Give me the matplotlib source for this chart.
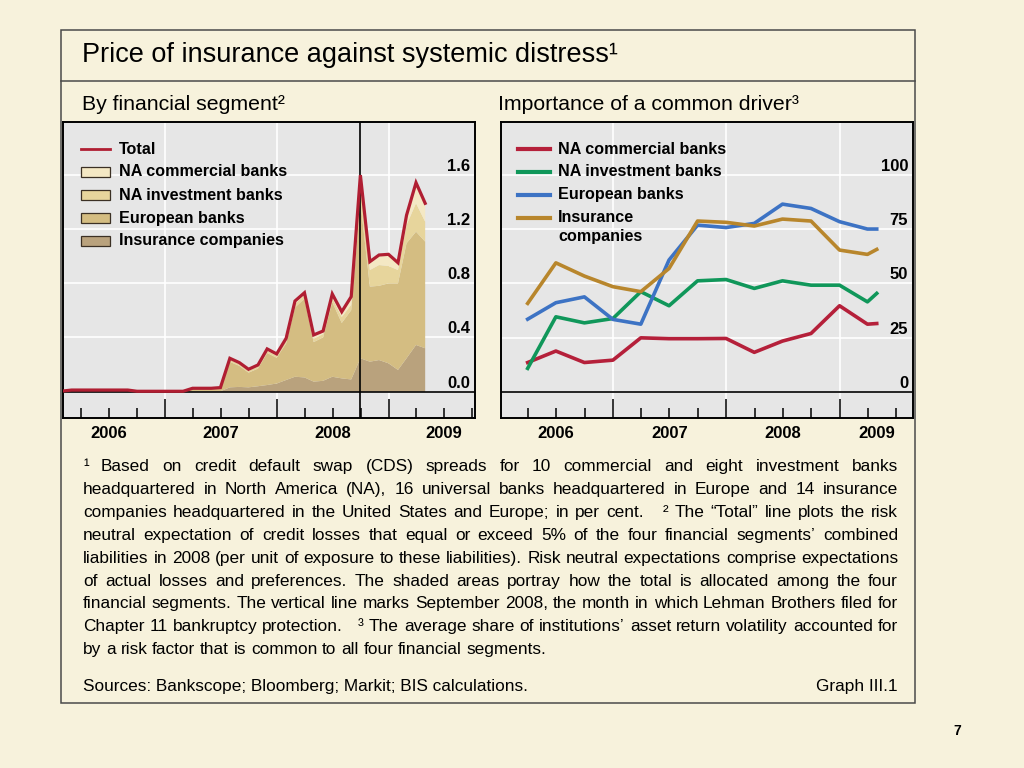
import math
import numpy as np
import pandas as pd
import matplotlib
matplotlib.use("Agg")
import matplotlib.pyplot as plt
import matplotlib.dates as mdates
from matplotlib.lines import Line2D
from matplotlib.patches import Rectangle
from matplotlib import transforms
from matplotlib.font_manager import FontProperties

plt.rcParams['font.family'] = ['Liberation Sans', 'DejaVu Sans']

# left panel: monthly (month ends), Jan 2006 - Apr 2009
months = pd.date_range("2006-01-31", periods=40, freq="ME")
total = [0.005, 0.012, 0.012, 0.012, 0.012, 0.012, 0.012, 0.012, 0.003, 0.003,
         0.003, 0.003, 0.003, 0.003, 0.025, 0.025, 0.025, 0.030,
         0.246, 0.214, 0.165, 0.197, 0.315, 0.278, 0.393, 0.668, 0.729, 0.418,
         0.447, 0.720, 0.589, 0.700, 1.596, 0.958, 1.007, 1.012, 0.950, 1.300,
         1.540, 1.388]
insurance = [0.000, 0.000, 0.000, 0.000, 0.000, 0.000, 0.000, 0.000, 0.000, 0.000,
             0.000, 0.000, 0.000, 0.000, 0.002, 0.002, 0.002, 0.003,
             0.032, 0.035, 0.032, 0.040, 0.049, 0.060, 0.086, 0.110, 0.105, 0.074,
             0.080, 0.110, 0.098, 0.090, 0.246, 0.221, 0.233, 0.209, 0.160, 0.246,
             0.344, 0.320]
european = [0.004, 0.009, 0.009, 0.009, 0.009, 0.009, 0.009, 0.009, 0.002, 0.002,
            0.002, 0.002, 0.002, 0.002, 0.018, 0.018, 0.018, 0.022,
            0.188, 0.155, 0.108, 0.130, 0.236, 0.190, 0.269, 0.510, 0.580, 0.291,
            0.320, 0.550, 0.408, 0.510, 1.154, 0.553, 0.547, 0.589, 0.638, 0.847,
            0.835, 0.785]
na_invest = [0.001, 0.002, 0.002, 0.002, 0.002, 0.002, 0.002, 0.002, 0.001, 0.001,
             0.001, 0.001, 0.001, 0.001, 0.003, 0.003, 0.003, 0.003,
             0.015, 0.013, 0.013, 0.015, 0.015, 0.015, 0.020, 0.025, 0.025, 0.025,
             0.025, 0.030, 0.044, 0.040, 0.120, 0.122, 0.153, 0.128, 0.098, 0.135,
             0.209, 0.147]
na_comm = [0.000, 0.001, 0.001, 0.001, 0.001, 0.001, 0.001, 0.001, 0.000, 0.000,
           0.000, 0.000, 0.000, 0.000, 0.002, 0.002, 0.002, 0.002,
           0.011, 0.011, 0.012, 0.012, 0.015, 0.013, 0.018, 0.023, 0.019, 0.028,
           0.022, 0.030, 0.039, 0.060, 0.076, 0.062, 0.074, 0.086, 0.054, 0.072,
           0.152, 0.136]
lehman = pd.Timestamp("2008-09-30")

# right panel: quarterly shares, per cent
quarters = pd.to_datetime(["2006-03-31", "2006-06-30", "2006-09-30", "2006-12-31",
                           "2007-03-31", "2007-06-30", "2007-09-30", "2007-12-31",
                           "2008-03-31", "2008-06-30", "2008-09-30", "2008-12-31",
                           "2009-03-31", "2009-04-30"])
drv_na_comm = [13.5, 18.8, 13.5, 14.6, 24.9, 24.5, 24.5, 24.6, 18.2, 23.4, 26.9, 39.7, 31.2, 31.5]
drv_na_inv = [10.8, 34.6, 31.8, 33.8, 46.2, 39.7, 51.2, 51.8, 47.7, 51.2, 49.2, 49.2, 41.5, 45.4]
drv_europe = [33.5, 41.1, 43.8, 33.4, 31.2, 60.8, 76.9, 75.8, 77.7, 86.6, 84.6, 78.5, 75.1, 75.1]
drv_insur = [40.8, 59.5, 53.4, 48.5, 46.2, 56.9, 78.8, 78.2, 76.5, 79.7, 78.8, 65.4, 63.4, 65.7]

left_yticks = [0.0, 0.4, 0.8, 1.2, 1.6]
left_ylabels = ["0.0", "0.4", "0.8", "1.2", "1.6"]
right_yticks = [0, 25, 50, 75, 100]
right_ylabels = ["0", "25", "50", "75", "100"]
years = ["2006", "2007", "2008", "2009"]

BG = "#f7f2dc"
PLOT_BG = "#e6e6e6"
area_colors = ["#b9a27d", "#d4bd82", "#e7d59c", "#f4e8c4"]
RED = "#b01e32"
line_colors = ["#b5203a", "#10975a", "#3d73c4", "#b8862c"]

W, H = 1024, 768
fig = plt.figure(figsize=(W / 100, H / 100), dpi=100, facecolor=BG)


def fx(x):
    return x / W


def fy(y):
    return 1 - y / H


# outer box
box = Rectangle((fx(61), fy(703)), fx(915) - fx(61), fy(30) - fy(703),
                transform=fig.transFigure, fill=False, ec="#4a4a4a", lw=1.1)
fig.add_artist(box)
fig.add_artist(Line2D([fx(61), fx(915)], [fy(81), fy(81)], transform=fig.transFigure,
                      color="#4a4a4a", lw=1.1))

fig.text(fx(82), fy(55), "Price of insurance against systemic distress¹", fontsize=19.5,
         va="center", ha="left")
fig.text(fx(82), fy(104), "By financial segment²", fontsize=15.3, va="center")
fig.text(fx(498), fy(104), "Importance of a common driver³", fontsize=15.3, va="center")


def style_axes(ax, yticks, ylabels):
    ax.set_facecolor(PLOT_BG)
    for s in ax.spines.values():
        s.set_color("black")
        s.set_linewidth(1.4)
    ax.set_yticks(yticks)
    ax.tick_params(axis="y", length=0, labelleft=False, labelright=False)
    ax.xaxis.set_major_locator(mdates.YearLocator())
    ax.xaxis.set_minor_locator(mdates.MonthLocator(bymonth=[4, 7, 10]))
    ax.tick_params(axis="x", which="major", direction="in", length=14, width=1.1,
                   color="black", labelbottom=False)
    ax.tick_params(axis="x", which="minor", direction="in", length=7, width=1.1,
                   color="black", labelbottom=False)
    ax.grid(axis="x", which="major", color="white", lw=1.2)
    ax.grid(axis="y", color="white", lw=1.2)
    ax.set_axisbelow(True)
    ax.axhline(0, color="black", lw=1.2, zorder=4)
    tr = transforms.offset_copy(ax.get_yaxis_transform(), fig=fig, x=-5, y=4, units="dots")
    for v, lab in zip(yticks, ylabels):
        ax.text(1.0, v, lab, transform=tr, ha="right", va="baseline",
                fontsize=12, fontweight="bold", zorder=6)


# left panel
axl = fig.add_axes([fx(63), fy(418), fx(475) - fx(63), fy(122) - fy(418)])
axl.stackplot(months, insurance, european, na_invest, na_comm,
              colors=area_colors, lw=0, zorder=2)
axl.plot(months, total, color=RED, lw=2.3, zorder=5, solid_joinstyle="miter")
axl.axvline(lehman, color="black", lw=1.2, zorder=4)
axl.set_xlim(pd.Timestamp("2006-01-31"), pd.Timestamp("2009-10-10"))
axl.set_ylim(-0.194, 1.987)
style_axes(axl, left_yticks, left_ylabels)

# right panel
axr = fig.add_axes([fx(501), fy(418), fx(913) - fx(501), fy(122) - fy(418)])
for vals, c in zip([drv_na_comm, drv_na_inv, drv_europe, drv_insur], line_colors):
    axr.plot(quarters, vals, color=c, lw=2.6, zorder=5)
axr.set_xlim(pd.Timestamp("2006-01-04"), pd.Timestamp("2009-08-25"))
axr.set_ylim(-12.1, 124.5)
style_axes(axr, right_yticks, right_ylabels)

# year labels under the panels
for yr in years:
    axl.text(pd.Timestamp(yr + "-07-01"), -15 / 296, yr, transform=axl.get_xaxis_transform(),
             ha="center", va="center", fontsize=12, fontweight="bold")
right_label_pos = ["2006-07-01", "2007-07-01", "2008-07-01", "2009-05-01"]
for yr, pos in zip(years, right_label_pos):
    axr.text(pd.Timestamp(pos), -15 / 296, yr, transform=axr.get_xaxis_transform(),
             ha="center", va="center", fontsize=12, fontweight="bold")

# legends (manual, positioned in pixels)
LEG = 11.6
left_names = ["NA commercial banks", "NA investment banks", "European banks",
              "Insurance companies"]
fig.add_artist(Line2D([fx(81), fx(110)], [fy(149), fy(149)], transform=fig.transFigure,
                      color=RED, lw=2.0))
fig.text(fx(119), fy(149), "Total", fontsize=LEG, fontweight="bold", va="center")
for i, (name, c) in enumerate(zip(left_names, area_colors[::-1])):
    yc = 172 + 23 * i
    fig.add_artist(Rectangle((fx(81), fy(yc + 5)), fx(110) - fx(81), fy(yc - 5) - fy(yc + 5),
                             transform=fig.transFigure, fc=c, ec="#3b3024", lw=0.9))
    fig.text(fx(119), fy(yc), name, fontsize=LEG, fontweight="bold", va="center")

right_names = ["NA commercial banks", "NA investment banks", "European banks", "Insurance"]
for i, (name, c) in enumerate(zip(right_names, line_colors)):
    yc = 149 + 23 * i
    fig.add_artist(Line2D([fx(518), fx(550)], [fy(yc), fy(yc)], transform=fig.transFigure,
                          color=c, lw=3.0))
    fig.text(fx(558), fy(yc), name, fontsize=LEG, fontweight="bold", va="center")
fig.text(fx(558), fy(237), "companies", fontsize=LEG, fontweight="bold", va="center")

# footnotes, justified word by word on a common baseline
notes = [
    "¹ Based on credit default swap (CDS) spreads for 10 commercial and eight investment banks",
    "headquartered in North America (NA), 16 universal banks headquartered in Europe and 14 insurance",
    "companies headquartered in the United States and Europe; in per cent. ² The “Total” line plots the risk",
    "neutral expectation of credit losses that equal or exceed 5% of the four financial segments’ combined",
    "liabilities in 2008 (per unit of exposure to these liabilities). Risk neutral expectations comprise expectations",
    "of actual losses and preferences. The shaded areas portray how the total is allocated among the four",
    "financial segments. The vertical line marks September 2008, the month in which Lehman Brothers filed for",
    "Chapter 11 bankruptcy protection. ³ The average share of institutions’ asset return volatility accounted for",
    "by a risk factor that is common to all four financial segments.",
]
note_base = [471, 494, 517, 540, 563, 586, 608, 631, 654]
X0, X1 = 83, 898

renderer = fig.canvas.get_renderer()


def text_width(s, size):
    t = fig.text(0, 0, s, fontsize=size)
    w = t.get_window_extent(renderer).width
    t.remove()
    return w


def baseline_fix(word, size):
    # shift so that Agg's pixel rounding puts every word on the same row
    _, h, d = renderer.get_text_width_height_descent(word, FontProperties(size=size), False)
    a = h - d
    return math.floor(a + d) - math.floor(a) - d


size = 12.4
space = text_width("x x", size) - text_width("xx", size)
natural = max(sum(text_width(w, size) for w in ln.split()) + space * (len(ln.split()) - 1)
              for ln in notes[:-1])
if natural > (X1 - X0):
    size = size * (X1 - X0) / natural
space = text_width("x x", size) - text_width("xx", size)

for i, (ln, yy) in enumerate(zip(notes, note_base)):
    words = ln.split()
    widths = [text_width(w, size) for w in words]
    units = [3.0 if w in ("²", "³") else 1.0 for w in words[1:]]
    if i == len(notes) - 1:
        gap = space
    else:
        gap = (X1 - X0 - sum(widths)) / sum(units)
    x = X0
    for j, (w, wd) in enumerate(zip(words, widths)):
        ypix = yy + baseline_fix(w, size)
        fig.text(fx(x), fy(ypix), w, fontsize=size, va="baseline", ha="left")
        if j < len(units):
            x += wd + gap * units[j]

fig.text(fx(83), fy(690.5), "Sources: Bankscope; Bloomberg; Markit; BIS calculations.",
         fontsize=size, va="baseline")
fig.text(fx(898), fy(690.5), "Graph III.1", fontsize=size, va="baseline", ha="right")

fig.text(fx(961), fy(731), "7", fontsize=10, fontweight="bold", va="center", ha="right")

fig.savefig("out.png", dpi=100, facecolor=BG)
